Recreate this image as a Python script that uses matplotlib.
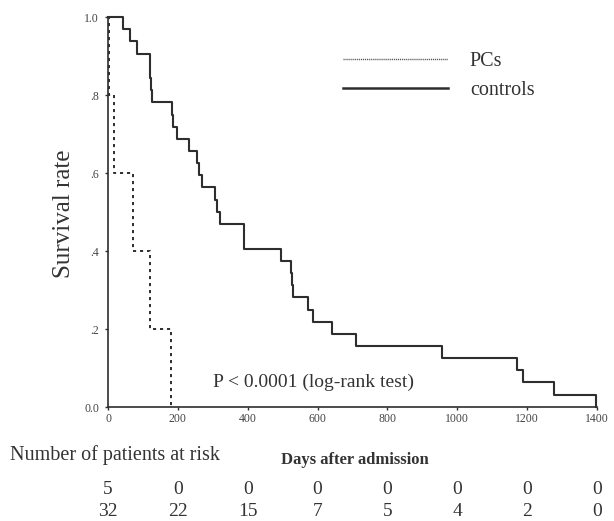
import matplotlib
matplotlib.use('Agg')
import matplotlib.pyplot as plt
from matplotlib.lines import Line2D

# controls: event times (days) and survival after each step
controls_days = [43, 63, 84, 119, 121, 123, 126, 184, 186, 197, 231, 254, 260, 268,
                 306, 312, 320, 389, 389, 496, 524, 527, 531, 573, 586, 642, 711,
                 957, 1172, 1187, 1277, 1396]
controls_surv = [.969, .938, .906, .875, .844, .813, .781, .750, .719, .688, .656, .625,
                 .594, .563, .531, .500, .469, .438, .406, .375, .344, .313, .281, .250,
                 .219, .188, .156, .125, .094, .063, .031, 0.0]

# PCs
pcs_days = [2, 17, 71, 121, 180]
pcs_surv = [0.8, 0.6, 0.4, 0.2, 0.0]

x_ticks = [0, 200, 400, 600, 800, 1000, 1200, 1400]
y_ticks = [0.0, 0.2, 0.4, 0.6, 0.8, 1.0]
y_tick_labels = ['0.0', '.2', '.4', '.6', '.8', '1.0']

risk_pcs = [5, 0, 0, 0, 0, 0, 0, 0]
risk_controls = [32, 22, 15, 7, 5, 4, 2, 0]

plt.rcParams['font.family'] = ['Liberation Serif', 'DejaVu Serif']
dark = '#2e2e2e'

W, H = 614, 521
fig = plt.figure(figsize=(W / 100, H / 100), dpi=100)
ax = fig.add_axes([108 / W, (H - 407) / H, 489 / W, 390 / H])

ax.plot([0] + controls_days, [1.0] + controls_surv, drawstyle='steps-post',
        color=dark, lw=1.5, clip_on=False)
ax.plot([0] + pcs_days, [1.0] + pcs_surv, drawstyle='steps-post',
        color=dark, lw=1.4, ls=(0, (1.6, 2.0)), clip_on=False)

ax.set_xlim(0, 1400)
ax.set_ylim(0, 1.0)
ax.set_xticks(x_ticks)
ax.set_yticks(y_ticks)
ax.set_yticklabels(y_tick_labels)
for s in ['top', 'right']:
    ax.spines[s].set_visible(False)
for s in ['left', 'bottom']:
    ax.spines[s].set_linewidth(1.2)
    ax.spines[s].set_color(dark)
ax.tick_params(axis='both', direction='out', length=2.5, width=1, colors=dark,
               labelsize=8.5, labelcolor='#444444')
ax.tick_params(axis='x', pad=2)
ax.tick_params(axis='y', pad=4)

ax.set_ylabel('Survival rate', fontsize=18, color='#333333')
ax.yaxis.set_label_coords(-(108 - 75) / 489, (407 - 214) / 390)

ax.text(300, 0.064, 'P < 0.0001 (log-rank test)', fontsize=14, color='#333333',
        ha='left', va='center')

handles = [Line2D([], [], color='#555555', lw=1.0, ls=(0, (0.8, 0.6))),
           Line2D([], [], color=dark, lw=1.8)]
ax.legend(handles, ['PCs', 'controls'], loc='upper left',
          bbox_to_anchor=(343 / W, 1 - 52 / H), bbox_transform=fig.transFigure,
          frameon=False, fontsize=14.5, handlelength=5.2, handletextpad=1.1,
          labelspacing=0.5, borderpad=0, borderaxespad=0, labelcolor='#333333')

fig.text(10 / W, 1 - 455 / H, 'Number of patients at risk', fontsize=14.5,
         color='#333333', ha='left', va='center')
fig.text(281 / W, 1 - 460 / H, 'Days after admission', fontsize=12,
         fontweight='bold', color='#333333', ha='left', va='center')

for xv, a, b in zip(x_ticks, risk_pcs, risk_controls):
    ax.annotate(str(a), xy=(xv, 0), xycoords='data', xytext=(0, -(490 - 407)),
                textcoords='offset pixels', ha='center', va='center',
                fontsize=14, color='#333333', annotation_clip=False)
    ax.annotate(str(b), xy=(xv, 0), xycoords='data', xytext=(0, -(511 - 407)),
                textcoords='offset pixels', ha='center', va='center',
                fontsize=14, color='#333333', annotation_clip=False)

fig.savefig('out.png', dpi=100)
